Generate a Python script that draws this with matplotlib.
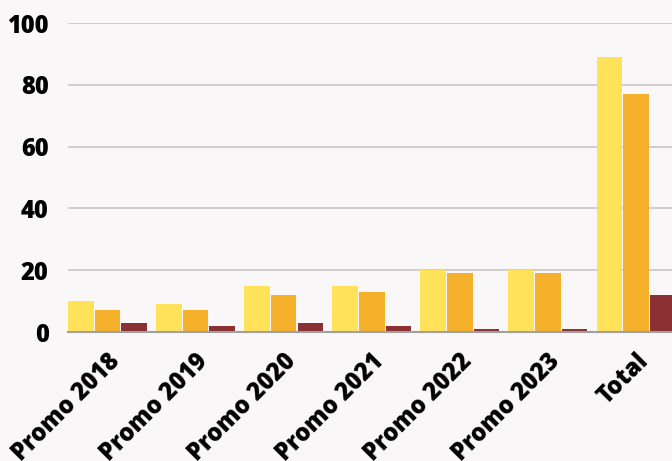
import numpy as np
import matplotlib.pyplot as plt

categories = ['Promo 2018', 'Promo 2019', 'Promo 2020', 'Promo 2021',
              'Promo 2022', 'Promo 2023', 'Total']
series_a = [10, 9, 15, 15, 20, 20, 89]
series_b = [7, 7, 12, 13, 19, 19, 77]
series_c = [3, 2, 3, 2, 1, 1, 12]

colors = ['#FFE15A', '#F5B02B', '#8B3033']
bg = '#F9F7F8'

plt.rcParams['font.family'] = ['Open Sans', 'DejaVu Sans']

fig = plt.figure(figsize=(6.72, 4.61), dpi=100, facecolor=bg)
ax = fig.add_axes([68 / 672, 1 - 332 / 461, 1 - 68 / 672, (332 - 23) / 461])
ax.set_facecolor(bg)

x = np.arange(len(categories))
w = 0.29
for i, (vals, c) in enumerate(zip([series_a, series_b, series_c], colors)):
    ax.bar(x + (i - 1) * (w + 0.012), vals, width=w, color=c, zorder=3)

ax.set_xlim(-0.45, 6.41)
ax.set_ylim(0, 100)
ax.set_yticks(range(0, 101, 20))
ax.grid(axis='y', color='#C8C8C8', linewidth=1.2, zorder=0)
for s in ['top', 'right', 'left']:
    ax.spines[s].set_visible(False)
ax.spines['bottom'].set_color('#A0A0A0')
ax.spines['bottom'].set_linewidth(1.5)
ax.spines['bottom'].set_zorder(4)

ax.set_xticks(x)
ax.set_xticklabels(categories, rotation=45, ha='right', rotation_mode='anchor')
ax.tick_params(axis='both', length=0, labelsize=17)
ax.tick_params(axis='y', pad=14)
ax.tick_params(axis='x', pad=12)
for lab in ax.get_xticklabels() + ax.get_yticklabels():
    lab.set_fontweight('heavy')

fig.savefig('out.png', dpi=100, facecolor=bg)
